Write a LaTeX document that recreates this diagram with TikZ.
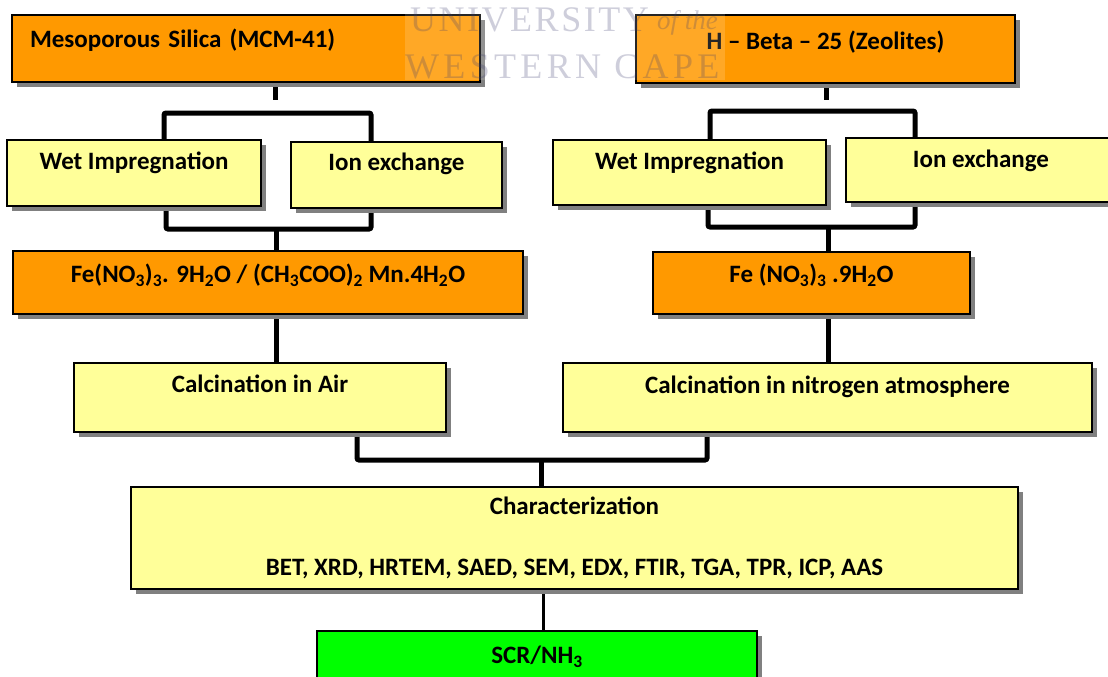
\documentclass[tikz,border=0pt]{standalone}
\usepackage{fontspec}
\setmainfont{Carlito}
\newfontfamily\wmfont[LetterSpace=12]{Liberation Serif}
\newfontfamily\wmtopfont[LetterSpace=7]{Liberation Serif}
\newfontfamily\wmitfont{Liberation Serif}
\usetikzlibrary{shadows,backgrounds}

\definecolor{boxorange}{RGB}{255,153,0}
\definecolor{boxyellow}{RGB}{255,255,153}
\definecolor{boxgreen}{RGB}{0,255,0}
\definecolor{wmgrey}{RGB}{60,60,110}

\begin{document}
\begin{tikzpicture}[x=1pt,y=-1pt,
  box/.style={draw,rectangle,line width=1.5pt,inner ysep=0pt,
    font=\fontsize{25}{30}\selectfont\bfseries,
    drop shadow={shadow xshift=5pt,shadow yshift=-5pt,fill=black!50,opacity=1}},
  orangebox/.style={box,fill=boxorange},
  yellowbox/.style={box,fill=boxyellow},
  greenbox/.style={box,fill=boxgreen},
  boxsize/.style n args={4}{minimum width=#1pt,minimum height=#2pt,text height=#3pt,text depth=#4pt},
  link/.style={line width=5pt,rounded corners=2pt},
  thinlink/.style={line width=3pt},
  watermark/.style={font=\wmfont\fontsize{36}{40}\selectfont,text=wmgrey,text opacity=0.25,inner sep=0pt}]

  \useasboundingbox (0,0) rectangle (1108,677);

  % Starting materials
  \node[orangebox,boxsize={468}{67}{32.5}{34.5},text width=432pt,inner xsep=18pt,align=left] (mcm) at (246,48.5) {Mesoporous Silica (MCM-41)};
  \node[orangebox,boxsize={379}{68}{34.5}{33.5}] (beta) at (825.5,49) {H -- Beta -- 25 (Zeolites)};

  % Loading methods
  \node[yellowbox,boxsize={254}{66}{29.5}{36.5}] (wetL) at (134,173) {Wet Impregnation};
  \node[yellowbox,boxsize={211}{66}{28.5}{37.5}] (ionL) at (396.5,175) {Ion exchange};
  \node[yellowbox,boxsize={273}{65}{29.5}{35.5}] (wetR) at (689.5,172.5) {Wet Impregnation};
  \node[yellowbox,boxsize={270}{64}{29.5}{34.5}] (ionR) at (981,170) {Ion exchange};

  % Metal precursors
  \node[orangebox,boxsize={510}{63}{31.5}{31.5}] (feL) at (268,282.5)
    {Fe(NO\textsubscript{3})\textsubscript{3}. 9H\textsubscript{2}O / (CH\textsubscript{3}COO)\textsubscript{2} Mn.4H\textsubscript{2}O};
  \node[orangebox,boxsize={317}{62}{30.5}{31.5}] (feR) at (811.5,283)
    {Fe (NO\textsubscript{3})\textsubscript{3} .9H\textsubscript{2}O};

  % Calcination
  \node[yellowbox,boxsize={372}{69}{29.5}{39.5}] (calA) at (260,397.5) {Calcination in Air};
  \node[yellowbox,boxsize={529}{69}{30.5}{38.5}] (calN) at (827.5,397.5) {Calcination in nitrogen atmosphere};

  % Characterization and test
  \node[yellowbox,minimum width=887pt,minimum height=102pt,align=center] (char) at (574.5,538)
    {Characterization\\[31pt]BET, XRD, HRTEM, SAED, SEM, EDX, FTIR, TGA, TPR, ICP, AAS};
  \node[greenbox,boxsize={440}{68}{32.5}{35.5}] (scr) at (537,665) {SCR/NH\textsubscript{3}};

  \begin{scope}[on background layer]
    % MCM-41 branch
    \coordinate (mcmstub) at (275,100);
    \coordinate (mcmbarL) at (164,113);
    \coordinate (mcmbarR) at (371,113);
    \coordinate (mcmjoinL) at (166,229);
    \coordinate (mcmjoinR) at (371,229);
    \coordinate (mcmfe) at (276,229);
    \draw[link] (mcm.south -| mcmstub) -- (mcmstub);
    \draw[link] (wetL.north -| mcmbarL) -- (mcmbarL) -- (mcmbarR) -- (ionL.north -| mcmbarR);
    \draw[link] (wetL.south -| mcmjoinL) -- (mcmjoinL) -- (mcmjoinR) -- (ionL.south -| mcmjoinR);
    \draw[link] (mcmfe) -- (feL.north -| mcmfe);
    \draw[link] (feL.south -| mcmfe) -- (calA.north -| mcmfe);

    % Zeolite branch
    \coordinate (betastub) at (826,100);
    \coordinate (betabarL) at (710,111);
    \coordinate (betabarR) at (915,111);
    \coordinate (betajoinL) at (708,227);
    \coordinate (betajoinR) at (915,227);
    \coordinate (betafe) at (828,227);
    \draw[link] (beta.south -| betastub) -- (betastub);
    \draw[link] (wetR.north -| betabarL) -- (betabarL) -- (betabarR) -- (ionR.north -| betabarR);
    \draw[link] (wetR.south -| betajoinL) -- (betajoinL) -- (betajoinR) -- (ionR.south -| betajoinR);
    \draw[link] (betafe) -- (feR.north -| betafe);
    \draw[link] (feR.south -| betafe) -- (calN.north -| betafe);

    % Merge into characterization
    \coordinate (calbarL) at (357,460);
    \coordinate (calbarR) at (707,460);
    \coordinate (calmid) at (541,460);
    \coordinate (scrlink) at (543,610);
    \draw[link] (calA.south -| calbarL) -- (calbarL) -- (calbarR) -- (calN.south -| calbarR);
    \draw[link] (calmid) -- (char.north -| calmid);
    \draw[thinlink] (char.south -| scrlink) -- (scr.north -| scrlink);
  \end{scope}

  % Watermark
  \node[fill=white,fill opacity=0.15,minimum width=320pt,minimum height=80pt,inner sep=0pt] (wmpanel) at (565,40) {};
  \node[watermark,anchor=base west,font=\wmtopfont\fontsize{36}{40}\selectfont] (wmline1) at (410,32)
    {UNIVERSITY};
  \node[watermark,anchor=base west,font=\wmitfont\itshape\fontsize{27}{30}\selectfont] (wmline1b) at (657,30) {of the};
  \node[watermark,anchor=base west] (wmline2) at (405,78) {WESTERN\ CAPE};

\end{tikzpicture}
\end{document}
